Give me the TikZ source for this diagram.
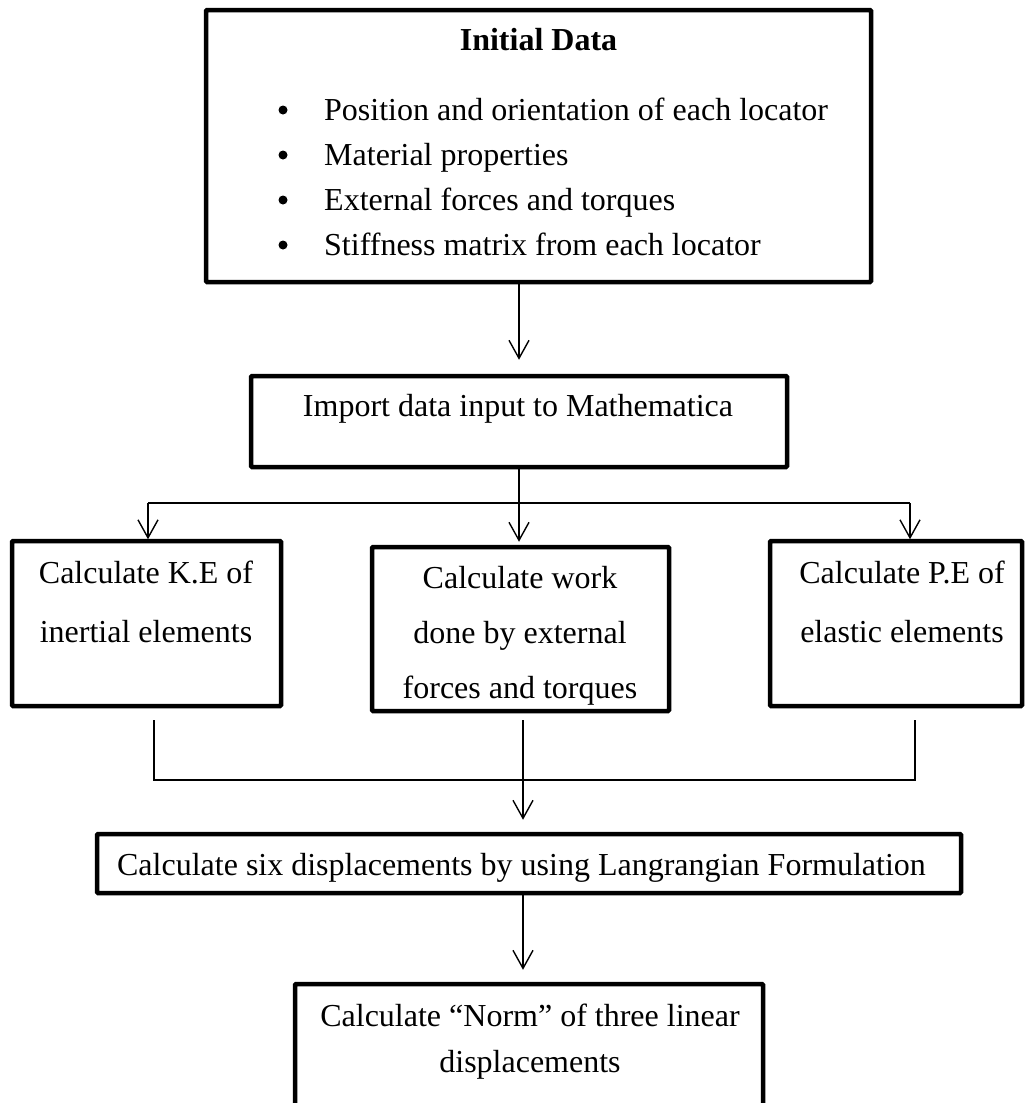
\documentclass[tikz,border=0pt]{standalone}
\usepackage{fontspec}
\setmainfont{Liberation Serif}
\usetikzlibrary{arrows.meta}
\begin{document}
\begin{tikzpicture}[x=1pt,y=-1pt,
  box/.style={draw=black, line width=4.5pt, rounded corners=1pt, inner sep=0pt, fill=white},
  txt/.style={anchor=base, inner sep=0pt, font=\fontsize{32}{38}\selectfont},
  conn/.style={draw=black, line width=1.4pt},
  arr/.style={conn, -{Straight Barb[length=18pt,width=20pt,line width=1.4pt]}},
  dot/.style={circle, fill=black, inner sep=0pt, minimum size=9pt}]
\useasboundingbox (0,0) rectangle (1027,1103);
\clip (0,0) rectangle (1027,1103);
\fill[white] (0,0) rectangle (1027,1103);

% boxes
\node[box, minimum width=665pt, minimum height=272pt] (init) at (538.5,146) {};
\node[box, minimum width=536pt, minimum height=91pt] (imp) at (519,421.5) {};
\node[box, minimum width=269pt, minimum height=165pt] (ke) at (146.5,623.5) {};
\node[box, minimum width=297pt, minimum height=164pt] (work) at (520.5,629) {};
\node[box, minimum width=252pt, minimum height=165pt] (pe) at (896,623.5) {};
\node[box, minimum width=864pt, minimum height=59pt] (lag) at (529,863.5) {};
\node[box, minimum width=468pt, minimum height=126pt] (norm) at (529,1047) {};

% texts
\node[txt, font=\fontsize{32}{38}\selectfont\bfseries] (title) at (538.5,50) {Initial Data};
\node[dot] (d1) at (283,110) {};
\node[dot] (d2) at (283,155) {};
\node[dot] (d3) at (283,200) {};
\node[dot] (d4) at (283,245) {};
\node[txt, anchor=base west] (b1) at (324,120) {Position and orientation of each locator};
\node[txt, anchor=base west] (b2) at (324,165) {Material properties};
\node[txt, anchor=base west] (b3) at (324,210) {External forces and torques};
\node[txt, anchor=base west] (b4) at (324,255) {Stiffness matrix from each locator};

\node[txt] (impt) at (518,416) {Import data input to Mathematica};

\node[txt] (ke1) at (146,583) {Calculate K.E of};
\node[txt] (ke2) at (146,642) {inertial elements};

\node[txt] (w1) at (520,588) {Calculate work};
\node[txt] (w2) at (520,643) {done by external};
\node[txt] (w3) at (520,698) {forces and torques};

\node[txt] (pe1) at (902,583) {Calculate P.E of};
\node[txt] (pe2) at (902,642) {elastic elements};

\node[txt] (lagt) at (521.5,875) {Calculate six displacements by using Langrangian Formulation};

\node[txt] (n1) at (530,1026) {Calculate “Norm” of three linear};
\node[txt] (n2) at (530,1072) {displacements};

% connectors
\draw[arr, shorten >=14pt] (imp.north |- init.south) -- (imp.north);

\coordinate (jl) at (148,503);
\coordinate (jr) at (910,503);
\draw[conn] (jl) -- (jr);
\draw[arr, shorten >=-0.5pt] (jl) -- (jl |- ke.north);
\draw[arr, shorten >=-0.5pt] (jr) -- (jr |- pe.north);
\draw[arr, shorten >=3pt] (imp.south) -- (imp.south |- work.north);

\coordinate (sl) at (154,720);
\coordinate (sc) at (523,720);
\coordinate (sr) at (915,720);
\coordinate (hl) at (154,780);
\coordinate (hr) at (915,780);
\draw[conn] (sl) -- (hl) -- (hr) -- (sr);
\draw[arr, shorten >=12pt] (sc) -- (sc |- lag.north);

\draw[arr, shorten >=12pt] (sc |- lag.south) -- (sc |- norm.north);
\end{tikzpicture}
\end{document}
